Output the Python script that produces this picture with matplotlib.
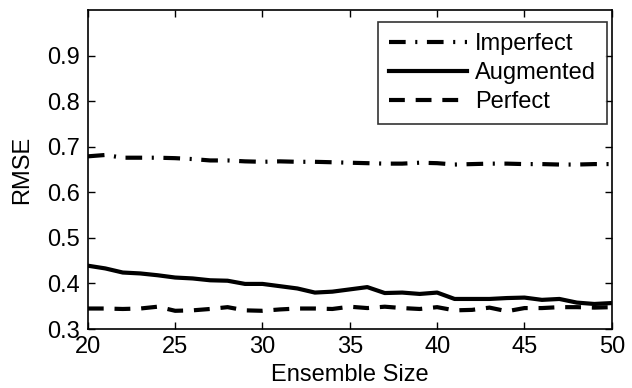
import matplotlib.pyplot as plt
import numpy as np

plt.rcParams['font.family'] = ['Liberation Sans', 'DejaVu Sans']

ensemble_size = np.arange(20, 51)

rmse_imperfect = [0.679, 0.682, 0.676, 0.676, 0.676, 0.675, 0.673, 0.670, 0.670, 0.668,
                  0.667, 0.668, 0.667, 0.667, 0.666, 0.665, 0.664, 0.663, 0.663, 0.665,
                  0.664, 0.661, 0.662, 0.663, 0.663, 0.662, 0.662, 0.661, 0.661, 0.662, 0.662]
rmse_augmented = [0.439, 0.433, 0.424, 0.422, 0.418, 0.413, 0.411, 0.407, 0.406, 0.399,
                  0.399, 0.394, 0.389, 0.380, 0.382, 0.387, 0.392, 0.379, 0.380, 0.377,
                  0.380, 0.366, 0.366, 0.366, 0.368, 0.369, 0.364, 0.366, 0.358, 0.355, 0.357]
rmse_perfect = [0.345, 0.345, 0.344, 0.345, 0.349, 0.340, 0.341, 0.344, 0.348, 0.341,
                0.340, 0.343, 0.345, 0.345, 0.344, 0.349, 0.346, 0.349, 0.346, 0.344,
                0.348, 0.341, 0.342, 0.347, 0.339, 0.346, 0.346, 0.348, 0.348, 0.347, 0.348]

fig = plt.figure(figsize=(6.32, 3.88), dpi=100)
ax = fig.add_axes([0.139, 0.152, 0.829, 0.822])

# matlab-ish line styles
ax.plot(ensemble_size, rmse_imperfect, color='black', lw=3, linestyle=(0, (4, 2.3, 0.5, 2.3)), label='Imperfect')
ax.plot(ensemble_size, rmse_augmented, color='black', lw=3, linestyle='-', label='Augmented')
ax.plot(ensemble_size, rmse_perfect, color='black', lw=3, linestyle=(0, (3.8, 2.6)), label='Perfect')

ax.set_xlim(20, 50)
ax.set_ylim(0.3, 1.0)
ax.set_xticks([20, 25, 30, 35, 40, 45, 50])
ax.set_yticks([0.3, 0.4, 0.5, 0.6, 0.7, 0.8, 0.9])
ax.tick_params(direction='in', top=True, right=True, labelsize=17, length=5, width=1)
ax.tick_params(axis='x', pad=5)
ax.tick_params(axis='y', pad=6)
for s in ax.spines.values():
    s.set_linewidth(1.2)

ax.set_xlabel('Ensemble Size', fontsize=17)
ax.set_ylabel('RMSE', fontsize=17)
ax.xaxis.set_label_coords(0.5, -0.11)
ax.yaxis.set_label_coords(-0.105, 0.5)

leg = ax.legend(loc='upper right', fontsize=17, handlelength=3.3, frameon=True, fancybox=False,
                borderpad=0.45, labelspacing=0.3, handletextpad=0.35, borderaxespad=0,
                bbox_to_anchor=(0.99, 0.962))
leg.get_frame().set_edgecolor('black')
leg.get_frame().set_linewidth(1.2)

plt.savefig('out.png', dpi=100)
